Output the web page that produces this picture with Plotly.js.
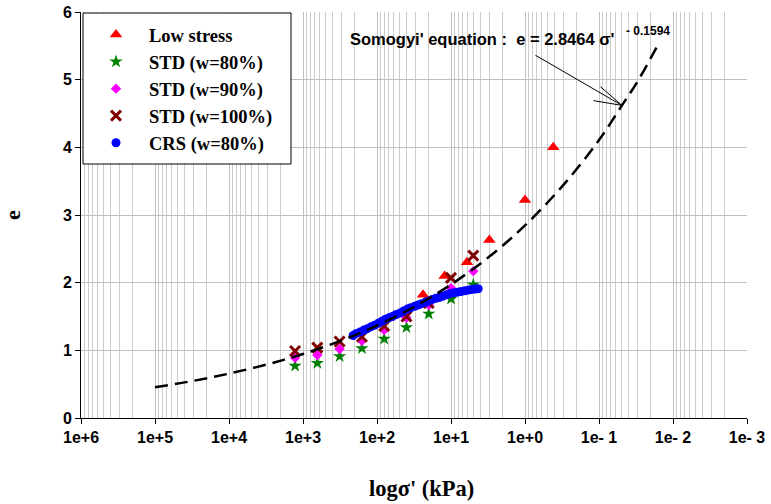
<!DOCTYPE html>
<html>
<head>
<meta charset="utf-8">
<script src="https://cdn.plot.ly/plotly-3.0.1.min.js"></script>
<style>html,body{margin:0;padding:0;background:#fff;}#chart{width:771px;height:504px;}</style>
</head>
<body>
<div id="chart"></div>
<script>
// ---- data ----
var lowS = [0.415, 1.0, 3.03, 6.08, 12.2, 23.9];
var lowE = [4.00, 3.22, 2.63, 2.30, 2.10, 1.82];

var stdS = [1280, 640, 320, 160, 80, 40, 20, 10, 5];
var std80E  = [0.77, 0.81, 0.91, 1.03, 1.17, 1.34, 1.54, 1.76, 1.97];
var std90E  = [0.89, 0.93, 1.02, 1.14, 1.30, 1.48, 1.67, 1.92, 2.17];
var std100E = [0.99, 1.04, 1.13, 1.20, 1.36, 1.50, 1.70, 2.07, 2.40];

var crsS = [210, 190, 170, 150, 135, 120, 108, 96, 86, 77, 69, 62, 55, 49, 44, 39, 35, 31, 28, 25,
            22, 20, 18, 16, 14.5, 13, 11.5, 10.3, 9.2, 8.2, 7.3, 6.5, 5.8, 5.2, 4.7, 4.3];
var crsE = [1.22, 1.25, 1.27, 1.30, 1.32, 1.35, 1.37, 1.40, 1.43, 1.46, 1.48, 1.50, 1.53, 1.55, 1.58, 1.61, 1.63, 1.65, 1.67, 1.69,
            1.71, 1.73, 1.75, 1.77, 1.78, 1.80, 1.82, 1.84, 1.85, 1.86, 1.87, 1.88, 1.89, 1.90, 1.905, 1.91];

var curveS = [1e5, 3e4, 1e4, 3e3, 1e3, 3e2, 1e2, 30, 10, 3, 1, 0.3, 0.1, 0.049, 0.03, 0.0157];
var curveE = [0.454, 0.55, 0.656, 0.794, 0.946, 1.147, 1.366, 1.655, 1.972, 2.389, 2.846, 3.449, 4.108, 4.62, 4.977, 5.53];
var arrowIdx = 13;

var xTickVals = [1e6, 1e5, 1e4, 1e3, 1e2, 1e1, 1e0, 1e-1, 1e-2, 1e-3];
var xTickText = ['1e+6', '1e+5', '1e+4', '1e+3', '1e+2', '1e+1', '1e+0', '1e- 1', '1e- 2', '1e- 3'];
var seriesNames = ['Low stress', 'STD (w=80%)', 'STD (w=90%)', 'STD (w=100%)', 'CRS (w=80%)'];

var serif = 'Liberation Serif, Times New Roman, serif';
var sans = 'Liberation Sans, Arial, sans-serif';

var traces = [
  {x: lowS, y: lowE, name: seriesNames[0], mode: 'markers', legendgroup: 'a',
   marker: {symbol: 'triangle-up', size: 11, color: '#ff0000'}},
  {x: stdS, y: std80E, name: seriesNames[1], mode: 'markers', legendgroup: 'b',
   marker: {symbol: 'star', size: 10, color: '#008000'}},
  {x: stdS, y: std90E, name: seriesNames[2], mode: 'markers', legendgroup: 'c',
   marker: {symbol: 'diamond', size: 8, color: '#ff00ff'}},
  {x: stdS, y: std100E, name: seriesNames[3], mode: 'markers', legendgroup: 'd',
   marker: {symbol: 'x-thin-open', size: 10, color: '#800000', line: {color: '#800000', width: 3}}},
  {x: crsS, y: crsE, name: seriesNames[4], mode: 'markers', legendgroup: 'e',
   marker: {symbol: 'circle', size: 9, color: '#0000ff'}},
  {x: curveS, y: curveE, mode: 'lines', showlegend: false, hoverinfo: 'skip',
   line: {color: '#000000', width: 2.5, dash: '13px,7px', shape: 'spline'}}
];

var tipX = Math.log10(curveS[arrowIdx]), tipY = curveE[arrowIdx];
function arrowLine(dx, dy) {
  return {xref: 'x', yref: 'y', x: tipX, y: tipY, ax: dx, ay: dy, text: '',
          showarrow: true, arrowhead: 0, arrowwidth: 1, arrowcolor: '#000000',
          standoff: 0, startstandoff: 0};
}

var annots = [
  {xref: 'paper', yref: 'paper', x: (348 - 81) / 666, y: (418 - 39) / 406,
   xanchor: 'left', yanchor: 'middle', showarrow: false,
   text: "Somogyi' equation :  e = 2.8464 σ'",
   font: {family: sans, size: 16.5, color: '#000000', weight: 'bold'}},
  {xref: 'paper', yref: 'paper', x: (624 - 81) / 666, y: (418 - 31) / 406,
   xanchor: 'left', yanchor: 'middle', showarrow: false,
   text: '- 0.1594',
   font: {family: sans, size: 12, color: '#000000', weight: 'bold'}},
  {xref: 'paper', yref: 'paper', x: (421 - 81) / 666, y: -(488 - 418) / 406,
   xanchor: 'center', yanchor: 'middle', showarrow: false,
   text: "logσ' (kPa)",
   font: {family: serif, size: 22.5, color: '#000000', weight: 'bold'}},
  arrowLine(-88, -51), arrowLine(-23, -20), arrowLine(-30, -5)
];

var layout = {
  width: 771, height: 504,
  margin: {l: 81, r: 24, t: 12, b: 86},
  paper_bgcolor: '#ffffff', plot_bgcolor: '#ffffff',
  showlegend: true,
  legend: {x: (83 - 81) / 666, y: (418 - 16) / 406, xanchor: 'left', yanchor: 'top',
           bgcolor: 'rgba(0,0,0,0)', borderwidth: 0,
           font: {family: serif, size: 18.5, color: '#000000', weight: 'bold'},
           itemwidth: 56, tracegroupgap: 0},
  xaxis: {type: 'log', autorange: false, range: [6, -3],
          tickmode: 'array', tickvals: xTickVals, ticktext: xTickText,
          ticks: 'outside', ticklen: 5, tickcolor: '#000000', tickwidth: 1,
          showline: true, linecolor: '#000000', linewidth: 1,
          showgrid: true, gridcolor: '#c0c0c0', gridwidth: 1, zeroline: false,
          minor: {dtick: 'D1', showgrid: true, gridcolor: '#cccccc', gridwidth: 1, ticks: ''},
          tickfont: {family: sans, size: 16, color: '#000000', weight: 'bold'}},
  yaxis: {range: [0, 6], autorange: false, dtick: 1, tick0: 0,
          ticks: 'outside', ticklen: 5, tickcolor: '#000000', tickwidth: 1,
          showline: true, linecolor: '#000000', linewidth: 1,
          showgrid: true, gridcolor: '#c0c0c0', gridwidth: 1, zeroline: false,
          tickfont: {family: sans, size: 16, color: '#000000', weight: 'bold'},
          title: {text: 'e', standoff: 36,
                  font: {family: serif, size: 22, color: '#000000', weight: 'bold'}}},
  annotations: annots,
  shapes: [{type: 'rect', xref: 'paper', yref: 'paper', layer: 'above',
            x0: (83 - 81) / 666, x1: (291 - 81) / 666,
            y0: (418 - 164) / 406, y1: (418 - 13) / 406,
            fillcolor: '#ffffff', line: {color: '#000000', width: 1}}]
};

Plotly.newPlot('chart', traces, layout, {displayModeBar: false, staticPlot: true});
</script>
</body>
</html>
